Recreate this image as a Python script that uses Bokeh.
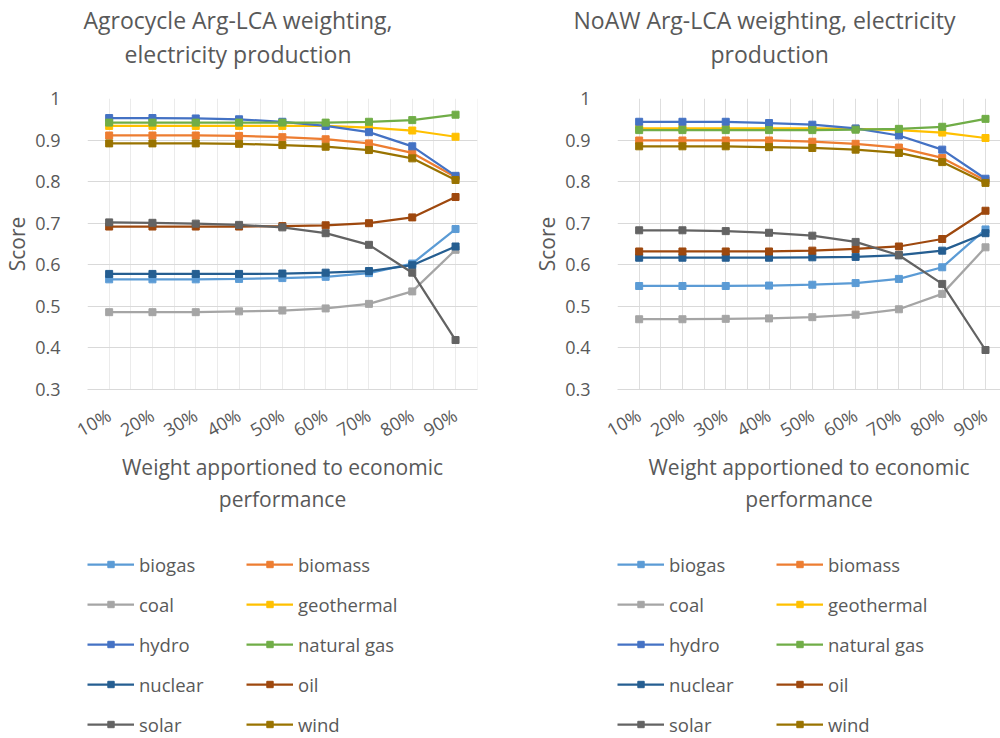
from bokeh.plotting import figure
from bokeh.models import FixedTicker, Legend, LegendItem, ColumnDataSource, Title
from bokeh.layouts import row, column
from bokeh.embed import file_html
from bokeh.resources import INLINE

# ---------------- data ----------------
CATEGORIES = ["10%", "20%", "30%", "40%", "50%", "60%", "70%", "80%", "90%"]
SERIES = ["biogas", "biomass", "coal", "geothermal", "hydro",
          "natural gas", "nuclear", "oil", "solar", "wind"]
COLORS = ["#5B9BD5", "#ED7D31", "#A5A5A5", "#FFC000", "#4472C4",
          "#70AD47", "#255E91", "#9E480E", "#636363", "#997300"]

Y_TICKS = [0.3, 0.4, 0.5, 0.6, 0.7, 0.8, 0.9, 1.0]
Y_TICK_LABELS = ["0.3", "0.4", "0.5", "0.6", "0.7", "0.8", "0.9", "1"]

TITLE_AGRO = ["Agrocycle Arg-LCA weighting,", "electricity production"]
TITLE_NOAW = ["NoAW Arg-LCA weighting, electricity", "production"]
X_LABEL = "Weight apportioned to economic\nperformance"
Y_LABEL = "Score"

# Agrocycle Arg-LCA weighting
AGRO_BIOGAS = [0.565, 0.565, 0.565, 0.566, 0.568, 0.571, 0.580, 0.603, 0.686]
AGRO_BIOMASS = [0.911, 0.911, 0.911, 0.910, 0.907, 0.902, 0.892, 0.869, 0.811]
AGRO_COAL = [0.486, 0.486, 0.486, 0.488, 0.490, 0.495, 0.506, 0.536, 0.636]
AGRO_GEOTHERMAL = [0.934, 0.934, 0.934, 0.934, 0.934, 0.934, 0.930, 0.923, 0.908]
AGRO_HYDRO = [0.953, 0.953, 0.952, 0.950, 0.944, 0.934, 0.919, 0.885, 0.814]
AGRO_NATURAL_GAS = [0.942, 0.942, 0.942, 0.942, 0.942, 0.942, 0.944, 0.948, 0.961]
AGRO_NUCLEAR = [0.578, 0.578, 0.578, 0.578, 0.579, 0.581, 0.585, 0.599, 0.644]
AGRO_OIL = [0.692, 0.692, 0.692, 0.692, 0.693, 0.695, 0.700, 0.714, 0.763]
AGRO_SOLAR = [0.702, 0.701, 0.699, 0.696, 0.690, 0.676, 0.648, 0.581, 0.419]
AGRO_WIND = [0.892, 0.892, 0.892, 0.891, 0.888, 0.884, 0.876, 0.856, 0.804]

# NoAW Arg-LCA weighting
NOAW_BIOGAS = [0.549, 0.549, 0.549, 0.550, 0.552, 0.556, 0.566, 0.594, 0.685]
NOAW_BIOMASS = [0.899, 0.899, 0.899, 0.899, 0.896, 0.891, 0.882, 0.857, 0.803]
NOAW_COAL = [0.469, 0.469, 0.470, 0.471, 0.474, 0.480, 0.493, 0.530, 0.642]
NOAW_GEOTHERMAL = [0.928, 0.928, 0.928, 0.928, 0.928, 0.927, 0.924, 0.918, 0.905]
NOAW_HYDRO = [0.944, 0.944, 0.944, 0.941, 0.937, 0.928, 0.911, 0.877, 0.807]
NOAW_NATURAL_GAS = [0.924, 0.924, 0.924, 0.924, 0.924, 0.925, 0.927, 0.932, 0.951]
NOAW_NUCLEAR = [0.617, 0.617, 0.617, 0.617, 0.618, 0.619, 0.623, 0.634, 0.676]
NOAW_OIL = [0.632, 0.632, 0.632, 0.632, 0.634, 0.638, 0.644, 0.662, 0.730]
NOAW_SOLAR = [0.683, 0.683, 0.681, 0.677, 0.670, 0.655, 0.623, 0.554, 0.395]
NOAW_WIND = [0.885, 0.885, 0.885, 0.883, 0.881, 0.877, 0.869, 0.847, 0.797]

AGRO = [AGRO_BIOGAS, AGRO_BIOMASS, AGRO_COAL, AGRO_GEOTHERMAL, AGRO_HYDRO,
        AGRO_NATURAL_GAS, AGRO_NUCLEAR, AGRO_OIL, AGRO_SOLAR, AGRO_WIND]
NOAW = [NOAW_BIOGAS, NOAW_BIOMASS, NOAW_COAL, NOAW_GEOTHERMAL, NOAW_HYDRO,
        NOAW_NATURAL_GAS, NOAW_NUCLEAR, NOAW_OIL, NOAW_SOLAR, NOAW_WIND]

# ---------------- layout / styling ----------------
FONT = "Open Sans"
TXT = "#595959"
GRID = "#D9D9D9"
TITLE_H = 83          # title strip height
CHART_H = 452         # chart figure height
LEG_H = 203           # legend strip height
CHART_TOP = 15        # frame top inside chart figure
FRAME_H = 291
LEG_ROW = 26
LEG_GAP = 14


def blank(width, height, top=0):
    f = figure(width=width, height=height, x_range=(0, 1), y_range=(0, 1),
               x_axis_type=None, y_axis_type=None,
               output_backend="svg", toolbar_location=None,
               min_border=0)
    f.min_border_top = top
    f.outline_line_color = None
    f.grid.visible = False
    f.background_fill_color = "white"
    f.border_fill_color = "white"
    return f


def build(title_lines, title_offsets, series_values, width, border_left, last_px, vgrid):
    xs = [i + 1 for i in range(len(CATEGORIES))]

    # ---- title strip: two stacked titles, nearest-frame first ----
    t = blank(width, TITLE_H, top=69)
    for line, off in [(title_lines[1], title_offsets[1]), (title_lines[0], title_offsets[0])]:
        t.add_layout(Title(text=line, align="left", offset=off, standoff=0,
                           text_font=FONT, text_font_size="23px",
                           text_font_style="normal", text_color=TXT), "above")

    # ---- chart ----
    frame_w = min(width - border_left, 391)
    ppu = last_px / (len(CATEGORIES) - 0.5)
    x_end = 0.5 + frame_w / ppu
    p = figure(width=width, height=CHART_H, x_range=(0.5, x_end), y_range=(0.3, 1.0),
               output_backend="svg", toolbar_location=None,
               min_border_left=border_left, min_border_right=width - border_left - frame_w,
               min_border_top=CHART_TOP, min_border_bottom=CHART_H - CHART_TOP - FRAME_H)
    p.outline_line_color = None
    p.background_fill_color = "white"
    p.border_fill_color = "white"

    p.ygrid.ticker = FixedTicker(ticks=Y_TICKS)
    p.ygrid.grid_line_color = GRID
    p.xgrid.ticker = FixedTicker(ticks=[0.5 * k for k in range(1, 2 * len(CATEGORIES) + 2)])
    p.xgrid.grid_line_color = vgrid

    xa = p.xaxis[0]
    xa.ticker = FixedTicker(ticks=xs)
    xa.major_label_overrides = {x: c for x, c in zip(xs, CATEGORIES)}
    xa.major_label_orientation = 0.52
    xa.major_label_standoff = 18
    xa.major_tick_line_color = None
    xa.minor_tick_line_color = None
    xa.axis_line_color = GRID
    xa.major_label_text_font = FONT
    xa.major_label_text_font_size = "18px"
    xa.major_label_text_color = TXT
    xa.axis_label = X_LABEL
    xa.axis_label_text_font = FONT
    xa.axis_label_text_font_size = "21px"
    xa.axis_label_text_font_style = "normal"
    xa.axis_label_text_color = TXT
    xa.axis_label_text_line_height = 1.15
    xa.axis_label_standoff = -2

    ya = p.yaxis[0]
    ya.ticker = FixedTicker(ticks=Y_TICKS)
    ya.major_label_overrides = {v: s for v, s in zip(Y_TICKS, Y_TICK_LABELS)}
    ya.major_label_standoff = 21
    ya.major_tick_line_color = None
    ya.minor_tick_line_color = None
    ya.axis_line_color = None
    ya.major_label_text_font = FONT
    ya.major_label_text_font_size = "18px"
    ya.major_label_text_color = TXT
    ya.axis_label = Y_LABEL
    ya.axis_label_text_font = FONT
    ya.axis_label_text_font_size = "21px"
    ya.axis_label_text_font_style = "normal"
    ya.axis_label_text_color = TXT
    ya.axis_label_standoff = 1

    # ---- legend strip (its frame is aligned with the chart frame) ----
    lg = blank(width, LEG_H)
    lg.x_range.start, lg.x_range.end = 100, 101
    lg.y_range.start, lg.y_range.end = 100, 101

    items = []
    for name, color, vals in zip(SERIES, COLORS, series_values):
        src = ColumnDataSource(dict(x=xs, y=vals))
        p.line("x", "y", source=src, line_color=color, line_width=2.25)
        p.scatter("x", "y", source=src, marker="square", size=7,
                  fill_color=color, line_color=color)
        l = lg.line("x", "y", source=src, line_color=color, line_width=2.25)
        s = lg.scatter("x", "y", source=src, marker="square", size=6,
                       fill_color=color, line_color=color)
        items.append(LegendItem(label=name, renderers=[l, s]))

    leg_h = 5 * LEG_ROW + 4 * LEG_GAP
    leg = Legend(items=items, location=(0, LEG_H - 16 - leg_h),
                 orientation="horizontal", ncols=2,
                 glyph_width=47, glyph_height=16, label_height=LEG_ROW, label_width=93,
                 label_standoff=5, spacing=LEG_GAP, padding=0, margin=0,
                 border_line_color=None, background_fill_alpha=0,
                 label_text_font=FONT, label_text_font_size="18.5px",
                 label_text_color=TXT)
    lg.add_layout(leg)
    return column(t, p, lg, spacing=0)


left = build(TITLE_AGRO, [-4, 37], AGRO, width=510, border_left=86, last_px=369,
             vgrid="#EBEBEB")
right = build(TITLE_NOAW, [-44, 93], NOAW, width=490, border_left=107, last_px=368,
              vgrid="#DEDEDE")

layout = row(left, right, spacing=0)
open("out.html", "w").write(file_html(layout, INLINE))
